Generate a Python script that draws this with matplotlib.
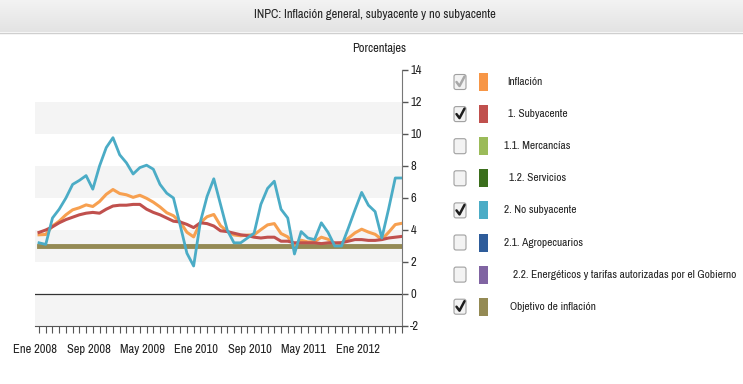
import numpy as np
import matplotlib.pyplot as plt
from matplotlib import font_manager as fm
from matplotlib.colors import LinearSegmentedColormap
from matplotlib.patches import FancyBboxPatch, Rectangle

# fuente estrecha parecida a Arial Narrow, la primera que exista
disponibles = set(f.name for f in fm.fontManager.ttflist)
preferidas = ['Liberation Sans Narrow', 'Arial Narrow', 'Archivo Narrow', 'PT Sans Narrow',
              'Roboto Condensed', 'Open Sans Condensed', 'Fira Sans Condensed',
              'IBM Plex Sans Condensed', 'Encode Sans Condensed', 'Barlow Semi Condensed']
fuente = next((f for f in preferidas if f in disponibles), 'DejaVu Sans')
plt.rcParams['font.family'] = [fuente, 'DejaVu Sans']

# Datos mensuales, Ene 2008 - Jul 2012 (variación anual, %)
meses = ['Ene', 'Feb', 'Mar', 'Abr', 'May', 'Jun', 'Jul', 'Ago', 'Sep', 'Oct', 'Nov', 'Dic']
fechas = [f'{m} {a}' for a in range(2008, 2013) for m in meses][:55]

inflacion = [3.70, 3.72, 4.25, 4.55, 4.95, 5.26, 5.39, 5.57, 5.47, 5.78, 6.23, 6.53,
             6.28, 6.20, 6.04, 6.17, 5.98, 5.74, 5.44, 5.08, 4.89, 4.50, 3.86, 3.57,
             4.46, 4.83, 4.97, 4.27, 3.92, 3.69, 3.64, 3.68, 3.70, 4.02, 4.32, 4.40,
             3.78, 3.57, 3.04, 3.36, 3.25, 3.28, 3.55, 3.42, 3.14, 3.20, 3.48, 3.82,
             4.05, 3.87, 3.73, 3.41, 3.85, 4.34, 4.42]
subyacente = [3.85, 4.00, 4.20, 4.45, 4.65, 4.80, 4.95, 5.05, 5.10, 5.05, 5.30, 5.50,
              5.55, 5.55, 5.60, 5.60, 5.30, 5.10, 4.95, 4.75, 4.55, 4.50, 4.35, 4.15,
              4.45, 4.40, 4.25, 3.95, 3.90, 3.80, 3.70, 3.65, 3.55, 3.50, 3.55, 3.55,
              3.30, 3.30, 3.20, 3.20, 3.20, 3.20, 3.15, 3.20, 3.20, 3.20, 3.30, 3.40,
              3.40, 3.35, 3.35, 3.40, 3.50, 3.55, 3.60]
no_subyacente = [3.20, 3.10, 4.75, 5.30, 6.00, 6.85, 7.10, 7.40, 6.55, 8.00, 9.15, 9.77,
                 8.70, 8.20, 7.50, 7.90, 8.05, 7.80, 6.85, 6.30, 6.00, 4.30, 2.55, 1.75,
                 4.50, 6.10, 7.20, 5.60, 4.00, 3.20, 3.20, 3.50, 3.80, 5.60, 6.60, 7.05,
                 5.30, 4.75, 2.50, 3.90, 3.50, 3.40, 4.45, 3.85, 3.00, 3.00, 4.10, 5.25,
                 6.35, 5.55, 5.15, 3.50, 5.30, 7.25, 7.25]
objetivo = [3.0] * 55

etiquetas_x = fechas[::8]

# Leyenda
series_leyenda = ['Inflación', '1. Subyacente', '1.1. Mercancías', '1.2. Servicios',
                  '2. No subyacente', '2.1. Agropecuarios',
                  '2.2. Energéticos y tarifas autorizadas por el Gobierno',
                  'Objetivo de inflación']
colores_leyenda = ['#f79646', '#c0504d', '#9bbb59', '#3b6e1c',
                   '#4bacc6', '#2e5c9a', '#8064a2', '#948a54']
marcados = [True, True, False, False, True, False, False, True]

fig = plt.figure(figsize=(7.43, 3.84), dpi=100)

# capa de fondo en pixeles (barra de titulo y leyenda)
bg = fig.add_axes([0, 0, 1, 1], zorder=0)
bg.set_xlim(0, 743)
bg.set_ylim(384, 0)
bg.axis('off')
grad = np.linspace(0, 1, 50).reshape(-1, 1)
bg.imshow(grad, extent=(0, 743, 32, 0), aspect='auto', zorder=0,
          cmap=LinearSegmentedColormap.from_list('g', ['#f3f3f3', '#e3e3e3']))
bg.plot([0, 743], [32.5, 32.5], color='#cfcfcf', lw=1)
bg.text(375, 15, 'INPC: Inflación general, subyacente y no subyacente',
        ha='center', va='center', fontsize=9, color='#222222')
bg.text(379, 49, 'Porcentajes', ha='center', va='center', fontsize=9, color='#222222')

text_x = [507, 508, 504, 509, 504, 504, 513, 510]
for k, (lab, col, chk) in enumerate(zip(series_leyenda, colores_leyenda, marcados)):
    yc = 82 + 32.1 * k
    bg.add_patch(FancyBboxPatch((454, yc - 7.5), 12, 15,
                                boxstyle='round,pad=0,rounding_size=2',
                                fc='#f3f3f3', ec='#a0a0a0', lw=0.8))
    if chk:
        cc = '#a8a8a8' if k == 0 else '#1e1e1e'
        bg.plot([456.5, 459.5, 464.5], [yc, yc + 4, yc - 5.5], color=cc, lw=1.8,
                solid_capstyle='round', solid_joinstyle='round')
    bg.add_patch(Rectangle((479, yc - 9), 8.5, 18, fc=col, ec='none'))
    bg.text(text_x[k], yc, lab, ha='left', va='center', fontsize=8.2, color='#222222')

# grafica principal
ax = fig.add_axes([35 / 743, 1 - 326 / 384, 367 / 743, 256 / 384], zorder=1)
x = np.arange(len(fechas))
for lo in (-2, 2, 6, 10):
    ax.axhspan(lo, lo + 2, color='#f4f4f4', lw=0, zorder=0)
ax.axhline(0, color='#333333', lw=0.9, zorder=1)

ax.plot(x, objetivo, color='#948a54', lw=3.5, zorder=2)
ax.plot(x, inflacion, color='#f7a050', lw=2.2, zorder=3)
ax.plot(x, subyacente, color='#c0504d', lw=2.2, zorder=3)
ax.plot(x, no_subyacente, color='#4bacc6', lw=2, zorder=4)

ax.set_xlim(0, 54)
ax.set_ylim(-2, 14)
ax.yaxis.tick_right()
ax.set_yticks(range(-2, 15, 2))
ax.set_yticklabels([str(v) for v in range(-2, 15, 2)])
ax.tick_params(axis='y', direction='out', length=4, width=1, color='#555555',
               labelsize=9, labelcolor='#222222', pad=2)
ax.set_xticks(x[::8] - 0.6)
ax.set_xticklabels(etiquetas_x)
ax.set_xticks(x, minor=True)
ax.tick_params(axis='x', which='major', length=0, labelsize=9,
               labelcolor='#222222', pad=13)
ax.tick_params(axis='x', which='minor', direction='out', length=5, width=0.8,
               color='#555555')

for s in ('top', 'left'):
    ax.spines[s].set_visible(False)
ax.spines['right'].set_color('#777777')
ax.spines['bottom'].set_color('#555555')
ax.spines['bottom'].set_linewidth(0.8)

fig.savefig('out.png', dpi=100)
